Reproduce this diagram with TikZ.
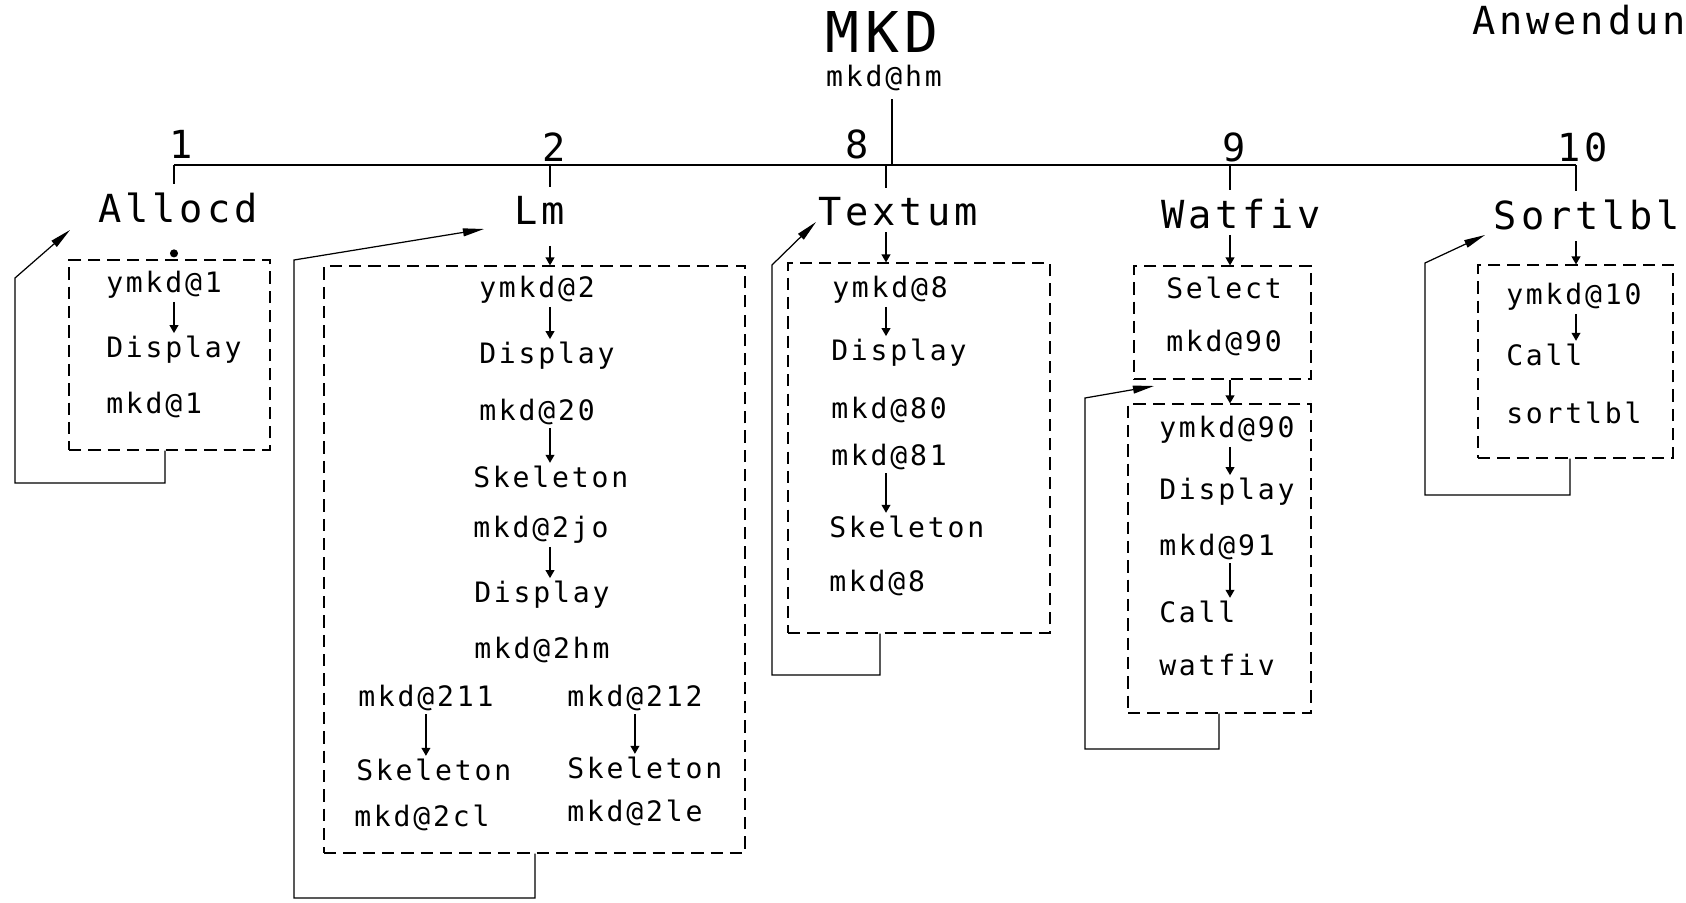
\documentclass[tikz,border=0pt]{standalone}
\usepackage{fontspec}
\newfontfamily\plotfont[LetterSpace=10]{DejaVu Sans Mono}
\usetikzlibrary{arrows.meta,fit}

\begin{document}
\begin{tikzpicture}[x=0.2mm, y=-0.2mm, line width=0.7pt,
    dbox/.style={draw, dash pattern=on 7pt off 4pt, inner sep=0pt},
    txt/.style={font=\plotfont\fontsize{16}{18}\selectfont, anchor=west, inner sep=1.5pt},
    modtxt/.style={font=\plotfont\fontsize{22}{24}\selectfont, inner sep=1pt},
    flow/.style={-{Triangle[length=4.5pt,width=5pt]}},
    back/.style={-{Triangle[length=12pt,width=4.5pt]}}]

    % --- 画布范围 ---
    \useasboundingbox (0,0) rectangle (1686,903);
    \def\busY{165}   % 横线高度

    % --- 标题 ---
    \node[font=\plotfont\fontsize{32}{34}\selectfont] (mkd) at (882,32) {MKD};
    \node[txt, anchor=center] (mkdhm) at (884,78) {mkd@hm};
    \node[modtxt, anchor=west] (anw) at (1470,20) {Anwendun};

    % --- 横线和分支点 ---
    \coordinate (top) at (892,\busY);
    \coordinate (k1) at (174,\busY);
    \coordinate (k2) at (550,\busY);
    \coordinate (k3) at (886,\busY);
    \coordinate (k4) at (1230,\busY);
    \coordinate (k5) at (1576,\busY);
    \draw[shorten <=3pt] (mkdhm.south -| top) -- (top);
    \draw (k1) -- (k5);

    % 编号
    \node[modtxt] (n1) at (181,144) {1};
    \node[modtxt] (n2) at (554,147) {2};
    \node[modtxt] (n8) at (857,144) {8};
    \node[modtxt] (n9) at (1234,147) {9};
    \node[modtxt] (n10) at (1583,147) {10};

    % 模块名称
    \node[modtxt] (allocd) at (178,208) {Allocd};
    \node[modtxt] (lm) at (540,210) {Lm};
    \node[modtxt] (textum) at (898,212) {Textum};
    \node[modtxt] (watfiv) at (1241,214) {Watfiv};
    \node[modtxt] (sortlbl) at (1587,215) {Sortlbl};
    \draw[shorten >=4pt] (k1) -- (k1 |- allocd.north);
    \draw[shorten >=4pt] (k2) -- (k2 |- lm.north);
    \draw[shorten >=4pt] (k3) -- (k3 |- textum.north);
    \draw[shorten >=4pt] (k4) -- (k4 |- watfiv.north);
    \draw[shorten >=4pt] (k5) -- (k5 |- sortlbl.north);

    % --- 1: Allocd ---
    \node[dbox, fit={(69,260) (270,450)}] (b1) {};
    \fill (b1.north -| k1) ++(0,-6) circle (2.3pt);
    \node[txt] (a1) at (103,285) {ymkd@1};
    \node[txt] (a2) at (103,350) {Display};
    \node[txt] (a3) at (103,405) {mkd@1};
    \draw[flow] (a1.south -| k1) -- (a2.north -| k1);
    \coordinate (u1) at (165,483);
    \coordinate (v1) at (15,278);
    \coordinate (p1) at (70,230);
    \draw[back] (b1.south -| u1) -- (u1) -| (v1) -- (p1);

    % --- 2: Lm ---
    \node[dbox, fit={(324,266) (745,853)}] (b2) {};
    \draw[flow, shorten <=11pt] (lm.south -| k2) -- (b2.north -| k2);
    \node[txt] (l1) at (476,290) {ymkd@2};
    \node[txt] (l2) at (476,356) {Display};
    \node[txt] (l3) at (476,412) {mkd@20};
    \node[txt] (l4) at (470,477) {Skeleton};
    \node[txt] (l5) at (470,530) {mkd@2jo};
    \node[txt] (l6) at (471,595) {Display};
    \node[txt] (l7) at (471,650) {mkd@2hm};
    \node[txt] (l8) at (355,698) {mkd@211};
    \node[txt] (l9) at (564,698) {mkd@212};
    \node[txt] (l10) at (353,770) {Skeleton};
    \node[txt] (l11) at (564,768) {Skeleton};
    \node[txt] (l12) at (351,818) {mkd@2cl};
    \node[txt] (l13) at (564,813) {mkd@2le};
    \draw[flow] (l1.south -| k2) -- (l2.north -| k2);
    \draw[flow] (l3.south -| k2) -- (l4.north -| k2);
    \draw[flow] (l5.south -| k2) -- (l6.north -| k2);
    \draw[flow] (l8.south) -- (l8.south |- l10.north);
    \draw[flow] (l9.south) -- (l9.south |- l11.north);
    \coordinate (u2) at (535,898);
    \coordinate (v2) at (294,260);
    \coordinate (p2) at (484,229);
    \draw[back] (b2.south -| u2) -- (u2) -| (v2) -- (p2);

    % --- 8: Textum ---
    \node[dbox, fit={(788,263) (1050,633)}] (b3) {};
    \draw[flow, shorten <=2pt] (textum.south -| k3) -- (b3.north -| k3);
    \node[txt] (t1) at (829,290) {ymkd@8};
    \node[txt] (t2) at (828,353) {Display};
    \node[txt] (t3) at (828,410) {mkd@80};
    \node[txt] (t4) at (828,457) {mkd@81};
    \node[txt] (t5) at (826,527) {Skeleton};
    \node[txt] (t6) at (826,583) {mkd@8};
    \draw[flow] (t1.south -| k3) -- (t2.north -| k3);
    \draw[flow] (t4.south -| k3) -- (t5.north -| k3);
    \coordinate (u3) at (880,675);
    \coordinate (v3) at (772,265);
    \coordinate (p3) at (816,222);
    \draw[back] (b3.south -| u3) -- (u3) -| (v3) -- (p3);

    % --- 9: Watfiv ---
    \node[dbox, fit={(1134,266) (1311,379)}] (b4) {};
    \node[dbox, fit={(1128,404) (1311,713)}] (b5) {};
    \draw[flow, shorten <=2pt] (watfiv.south -| k4) -- (b4.north -| k4);
    \draw[flow] (b4.south -| k4) -- (b5.north -| k4);
    \node[txt] (w1) at (1163,288) {Select};
    \node[txt] (w2) at (1163,343) {mkd@90};
    \node[txt] (w3) at (1156,430) {ymkd@90};
    \node[txt] (w4) at (1156,492) {Display};
    \node[txt] (w5) at (1156,547) {mkd@91};
    \node[txt] (w6) at (1156,612) {Call};
    \node[txt] (w7) at (1156,665) {watfiv};
    \draw[flow] (w3.south -| k4) -- (w4.north -| k4);
    \draw[flow] (w5.south -| k4) -- (w6.north -| k4);
    \coordinate (u4) at (1219,749);
    \coordinate (v4) at (1085,398);
    \coordinate (p4) at (1154,386);
    \draw[back] (b5.south -| u4) -- (u4) -| (v4) -- (p4);

    % --- 10: Sortlbl ---
    \node[dbox, fit={(1478,265) (1673,458)}] (b6) {};
    \draw[flow, shorten <=5pt] (sortlbl.south -| k5) -- (b6.north -| k5);
    \node[txt] (s1) at (1503,297) {ymkd@10};
    \node[txt] (s2) at (1503,355) {Call};
    \node[txt] (s3) at (1503,413) {sortlbl};
    \draw[flow] (s1.south -| k5) -- (s2.north -| k5);
    \coordinate (u5) at (1570,495);
    \coordinate (v5) at (1425,263);
    \coordinate (p5) at (1485,235);
    \draw[back] (b6.south -| u5) -- (u5) -| (v5) -- (p5);

\end{tikzpicture}
\end{document}
